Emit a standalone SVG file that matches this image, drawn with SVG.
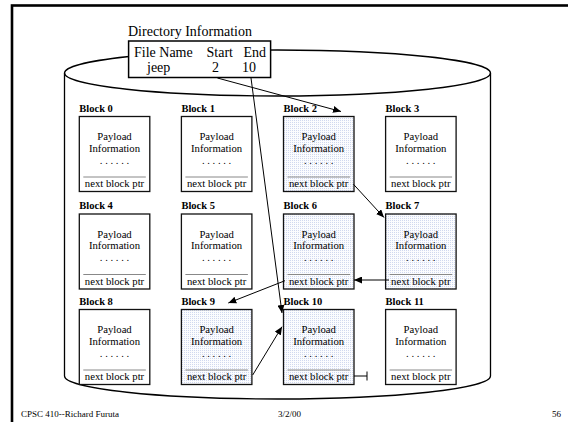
<svg xmlns="http://www.w3.org/2000/svg" width="568" height="422" viewBox="0 0 568 422">
<style>
text{font-family:"Liberation Serif","Times New Roman",serif;fill:#000}
.lbl{font-size:10.5px;font-weight:bold}
.bt{font-size:10.7px;text-anchor:middle}
.dir{font-size:14px}
.ft{font-size:9px}
.box{stroke:#111;stroke-width:1.3}
.plain{fill:#fff}
.shade{fill:url(#dots)}
.sep{stroke:#888;stroke-width:1}
.cyl{fill:none;stroke:#000;stroke-width:1.3}
.con{fill:none;stroke:#000;stroke-width:1}
</style>
<defs>
<pattern id="dots" width="2" height="2" patternUnits="userSpaceOnUse"><rect width="2" height="2" fill="#fbfcfe"/><rect width="1" height="1" fill="#d0d8ef"/></pattern>
<marker id="ah" markerUnits="userSpaceOnUse" markerWidth="9" markerHeight="7" refX="8" refY="3.5" orient="auto"><path d="M0,0 L8,3.5 L0,7 z" fill="#000"/></marker>
</defs>
<rect x="0" y="0" width="568" height="422" fill="#fff"/>
<rect x="12" y="5.5" width="600" height="450" fill="none" stroke="#000" stroke-width="2.6"/>
<g id="disk">
<ellipse class="cyl" cx="277.5" cy="73" rx="213" ry="23"/>
<path class="cyl" d="M64.5,73 V376 A213,23 0 0 0 490.5,376 V73"/>
</g>
<g id="directory">
<text class="dir" x="128" y="36">Directory Information</text>
<rect x="128.6" y="41" width="142" height="36.5" fill="#fff" stroke="#000" stroke-width="1.5"/>
<text class="dir" x="134" y="56.5">File Name</text>
<text class="dir" x="206.5" y="56.5">Start</text>
<text class="dir" x="243.5" y="56.5">End</text>
<text class="dir" x="147" y="71.5">jeep</text>
<text class="dir" x="212" y="71.5">2</text>
<text class="dir" x="242" y="71.5">10</text>
</g>
<g id="block0"><text class="lbl" x="79.3" y="111.5">Block 0</text><rect class="box plain" x="79.3" y="116.5" width="70.5" height="75"/><text class="bt" x="114.5" y="140">Payload</text><text class="bt" x="114.5" y="151.5">Information</text><text class="bt" x="114.5" y="163.5">. . . . . .</text><line class="sep" x1="83.3" y1="177" x2="145.8" y2="177"/><text class="bt" x="114.5" y="187">next block ptr</text></g>
<g id="block1"><text class="lbl" x="181.4" y="111.5">Block 1</text><rect class="box plain" x="181.4" y="116.5" width="70.5" height="75"/><text class="bt" x="216.6" y="140">Payload</text><text class="bt" x="216.6" y="151.5">Information</text><text class="bt" x="216.6" y="163.5">. . . . . .</text><line class="sep" x1="185.4" y1="177" x2="247.9" y2="177"/><text class="bt" x="216.6" y="187">next block ptr</text></g>
<g id="block2"><text class="lbl" x="283.5" y="111.5">Block 2</text><rect class="box shade" x="283.5" y="116.5" width="70.5" height="75"/><text class="bt" x="318.7" y="140">Payload</text><text class="bt" x="318.7" y="151.5">Information</text><text class="bt" x="318.7" y="163.5">. . . . . .</text><line class="sep" x1="287.5" y1="177" x2="350" y2="177"/><text class="bt" x="318.7" y="187">next block ptr</text></g>
<g id="block3"><text class="lbl" x="385.6" y="111.5">Block 3</text><rect class="box plain" x="385.6" y="116.5" width="70.5" height="75"/><text class="bt" x="420.8" y="140">Payload</text><text class="bt" x="420.8" y="151.5">Information</text><text class="bt" x="420.8" y="163.5">. . . . . .</text><line class="sep" x1="389.6" y1="177" x2="452.1" y2="177"/><text class="bt" x="420.8" y="187">next block ptr</text></g>
<g id="block4"><text class="lbl" x="79.3" y="209">Block 4</text><rect class="box plain" x="79.3" y="214" width="70.5" height="75"/><text class="bt" x="114.5" y="237.5">Payload</text><text class="bt" x="114.5" y="249">Information</text><text class="bt" x="114.5" y="261">. . . . . .</text><line class="sep" x1="83.3" y1="274.5" x2="145.8" y2="274.5"/><text class="bt" x="114.5" y="284.5">next block ptr</text></g>
<g id="block5"><text class="lbl" x="181.4" y="209">Block 5</text><rect class="box plain" x="181.4" y="214" width="70.5" height="75"/><text class="bt" x="216.6" y="237.5">Payload</text><text class="bt" x="216.6" y="249">Information</text><text class="bt" x="216.6" y="261">. . . . . .</text><line class="sep" x1="185.4" y1="274.5" x2="247.9" y2="274.5"/><text class="bt" x="216.6" y="284.5">next block ptr</text></g>
<g id="block6"><text class="lbl" x="283.5" y="209">Block 6</text><rect class="box shade" x="283.5" y="214" width="70.5" height="75"/><text class="bt" x="318.7" y="237.5">Payload</text><text class="bt" x="318.7" y="249">Information</text><text class="bt" x="318.7" y="261">. . . . . .</text><line class="sep" x1="287.5" y1="274.5" x2="350" y2="274.5"/><text class="bt" x="318.7" y="284.5">next block ptr</text></g>
<g id="block7"><text class="lbl" x="385.6" y="209">Block 7</text><rect class="box shade" x="385.6" y="214" width="70.5" height="75"/><text class="bt" x="420.8" y="237.5">Payload</text><text class="bt" x="420.8" y="249">Information</text><text class="bt" x="420.8" y="261">. . . . . .</text><line class="sep" x1="389.6" y1="274.5" x2="452.1" y2="274.5"/><text class="bt" x="420.8" y="284.5">next block ptr</text></g>
<g id="block8"><text class="lbl" x="79.3" y="304.5">Block 8</text><rect class="box plain" x="79.3" y="309.5" width="70.5" height="75"/><text class="bt" x="114.5" y="333">Payload</text><text class="bt" x="114.5" y="344.5">Information</text><text class="bt" x="114.5" y="356.5">. . . . . .</text><line class="sep" x1="83.3" y1="370" x2="145.8" y2="370"/><text class="bt" x="114.5" y="380">next block ptr</text></g>
<g id="block9"><text class="lbl" x="181.4" y="304.5">Block 9</text><rect class="box shade" x="181.4" y="309.5" width="70.5" height="75"/><text class="bt" x="216.6" y="333">Payload</text><text class="bt" x="216.6" y="344.5">Information</text><text class="bt" x="216.6" y="356.5">. . . . . .</text><line class="sep" x1="185.4" y1="370" x2="247.9" y2="370"/><text class="bt" x="216.6" y="380">next block ptr</text></g>
<g id="block10"><text class="lbl" x="283.5" y="304.5">Block 10</text><rect class="box shade" x="283.5" y="309.5" width="70.5" height="75"/><text class="bt" x="318.7" y="333">Payload</text><text class="bt" x="318.7" y="344.5">Information</text><text class="bt" x="318.7" y="356.5">. . . . . .</text><line class="sep" x1="287.5" y1="370" x2="350" y2="370"/><text class="bt" x="318.7" y="380">next block ptr</text></g>
<g id="block11"><text class="lbl" x="385.6" y="304.5">Block 11</text><rect class="box plain" x="385.6" y="309.5" width="70.5" height="75"/><text class="bt" x="420.8" y="333">Payload</text><text class="bt" x="420.8" y="344.5">Information</text><text class="bt" x="420.8" y="356.5">. . . . . .</text><line class="sep" x1="389.6" y1="370" x2="452.1" y2="370"/><text class="bt" x="420.8" y="380">next block ptr</text></g>
<g id="connectors">
<line class="con" x1="217.4" y1="78" x2="341" y2="111.5" marker-end="url(#ah)"/>
<line class="con" x1="251" y1="78" x2="282" y2="313" marker-end="url(#ah)"/>
<line class="con" x1="353.5" y1="184.3" x2="384" y2="217.5" marker-end="url(#ah)"/>
<line class="con" x1="389" y1="280" x2="354" y2="280" stroke-width="1.7" marker-end="url(#ah)"/>
<line class="con" x1="285" y1="280.7" x2="228.3" y2="303" marker-end="url(#ah)"/>
<line class="con" x1="252.7" y1="375" x2="282" y2="326.7" marker-end="url(#ah)"/>
<path class="con" d="M354,376 H367 M367,371.5 V380.5"/>
</g>
<g id="footer">
<text class="ft" x="21" y="416.5">CPSC 410--Richard Furuta</text>
<text class="ft" x="278" y="416.5">3/2/00</text>
<text class="ft" x="561" y="416.5" text-anchor="end">56</text>
</g>
</svg>
